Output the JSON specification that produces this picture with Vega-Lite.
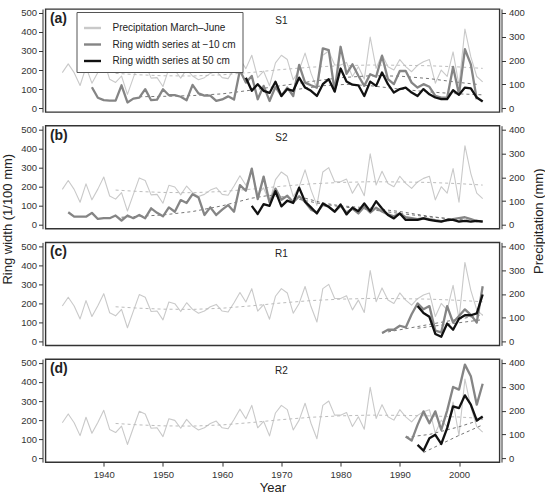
{
  "$schema": "https://vega.github.io/schema/vega-lite/v6.json",
  "background": "white",
  "padding": {"left": 0.5, "top": 7, "right": 0, "bottom": 3},
  "bounds": "flush",
  "spacing": 13.7,
  "config": {
    "font": "Liberation Sans",
    "view": {"stroke": "#333333", "strokeWidth": 1.4},
    "axis": {
      "labelFont": "Liberation Sans", "labelFontSize": 9.5, "labelColor": "#333333", "labelFlush": false,
      "tickColor": "#333333", "domainColor": "#333333", "grid": false, "tickSize": 4,
      "titleFont": "Liberation Sans", "titleFontWeight": "normal", "titleColor": "#222222"
    },
    "line": {"strokeJoin": "round"},
    "text": {"font": "Liberation Sans", "color": "#222222"}
  },
  "datasets": {
    "precip": [
      {"year":1933,"mm":149},{"year":1934,"mm":186},{"year":1935,"mm":149},{"year":1936,"mm":95},{"year":1937,"mm":172},{"year":1938,"mm":105},{"year":1939,"mm":150},{"year":1940,"mm":201},{"year":1941,"mm":121},{"year":1942,"mm":108},
      {"year":1943,"mm":135},{"year":1944,"mm":58},{"year":1945,"mm":128},{"year":1946,"mm":197},{"year":1947,"mm":186},{"year":1948,"mm":126},{"year":1949,"mm":128},{"year":1950,"mm":91},{"year":1951,"mm":166},{"year":1952,"mm":159},
      {"year":1953,"mm":126},{"year":1954,"mm":163},{"year":1955,"mm":135},{"year":1956,"mm":119},{"year":1957,"mm":128},{"year":1958,"mm":146},{"year":1959,"mm":156},{"year":1960,"mm":128},{"year":1961,"mm":124},{"year":1962,"mm":163},
      {"year":1963,"mm":206},{"year":1964,"mm":166},{"year":1965,"mm":222},{"year":1966,"mm":128},{"year":1967,"mm":155},{"year":1968,"mm":94},{"year":1969,"mm":190},{"year":1970,"mm":222},{"year":1971,"mm":204},{"year":1972,"mm":119},
      {"year":1973,"mm":160},{"year":1974,"mm":231},{"year":1975,"mm":147},{"year":1976,"mm":82},{"year":1977,"mm":222},{"year":1978,"mm":240},{"year":1979,"mm":181},{"year":1980,"mm":181},{"year":1981,"mm":192},{"year":1982,"mm":133},
      {"year":1983,"mm":174},{"year":1984,"mm":122},{"year":1985,"mm":298},{"year":1986,"mm":167},{"year":1987,"mm":225},{"year":1988,"mm":174},{"year":1989,"mm":160},{"year":1990,"mm":204},{"year":1991,"mm":174},{"year":1992,"mm":153},
      {"year":1993,"mm":180},{"year":1994,"mm":195},{"year":1995,"mm":204},{"year":1996,"mm":105},{"year":1997,"mm":160},{"year":1998,"mm":133},{"year":1999,"mm":236},{"year":2000,"mm":95},{"year":2001,"mm":332},{"year":2002,"mm":215},
      {"year":2003,"mm":133},{"year":2004,"mm":110}
    ],
    "precipTrend": [
      {"year":1942,"mm":146},{"year":1946,"mm":140},{"year":1950,"mm":136},{"year":1955,"mm":135},{"year":1960,"mm":140},{"year":1965,"mm":150},{"year":1970,"mm":162},
      {"year":1975,"mm":172},{"year":1980,"mm":178},{"year":1985,"mm":181},{"year":1990,"mm":180},{"year":1995,"mm":178},{"year":2000,"mm":173},{"year":2004,"mm":167}
    ],
    "S1_10": [
      {"year":1938,"width":110},{"year":1939,"width":55},{"year":1940,"width":42},{"year":1941,"width":40},{"year":1942,"width":40},{"year":1943,"width":120},{"year":1944,"width":30},{"year":1945,"width":50},{"year":1946,"width":55},{"year":1947,"width":100},
      {"year":1948,"width":42},{"year":1949,"width":45},{"year":1950,"width":99},{"year":1951,"width":68},{"year":1952,"width":68},{"year":1953,"width":60},{"year":1954,"width":42},{"year":1955,"width":122},{"year":1956,"width":78},{"year":1957,"width":66},
      {"year":1958,"width":66},{"year":1959,"width":38},{"year":1960,"width":46},{"year":1961,"width":62},{"year":1962,"width":45},{"year":1963,"width":199},{"year":1964,"width":134},{"year":1965,"width":169},{"year":1966,"width":47},{"year":1967,"width":117},
      {"year":1968,"width":38},{"year":1969,"width":112},{"year":1970,"width":64},{"year":1971,"width":108},{"year":1972,"width":64},{"year":1973,"width":227},{"year":1974,"width":134},{"year":1975,"width":120},{"year":1976,"width":108},{"year":1977,"width":314},
      {"year":1978,"width":304},{"year":1979,"width":90},{"year":1980,"width":322},{"year":1981,"width":180},{"year":1982,"width":230},{"year":1983,"width":170},{"year":1984,"width":117},{"year":1985,"width":178},{"year":1986,"width":165},{"year":1987,"width":274},
      {"year":1988,"width":152},{"year":1989,"width":126},{"year":1990,"width":195},{"year":1991,"width":195},{"year":1992,"width":134},{"year":1993,"width":108},{"year":1994,"width":126},{"year":1995,"width":112},{"year":1996,"width":64},{"year":1997,"width":55},
      {"year":1998,"width":55},{"year":1999,"width":216},{"year":2000,"width":73},{"year":2001,"width":309},{"year":2002,"width":230},{"year":2003,"width":47}
    ],
    "S1_50": [
      {"year":1964,"width":160},{"year":1965,"width":91},{"year":1966,"width":126},{"year":1967,"width":91},{"year":1968,"width":80},{"year":1969,"width":139},{"year":1970,"width":64},{"year":1971,"width":100},{"year":1972,"width":91},{"year":1973,"width":160},
      {"year":1974,"width":108},{"year":1975,"width":91},{"year":1976,"width":64},{"year":1977,"width":126},{"year":1978,"width":152},{"year":1979,"width":87},{"year":1980,"width":208},{"year":1981,"width":140},{"year":1982,"width":123},{"year":1983,"width":120},
      {"year":1984,"width":64},{"year":1985,"width":139},{"year":1986,"width":117},{"year":1987,"width":187},{"year":1988,"width":126},{"year":1989,"width":82},{"year":1990,"width":100},{"year":1991,"width":108},{"year":1992,"width":82},{"year":1993,"width":64},
      {"year":1994,"width":100},{"year":1995,"width":73},{"year":1996,"width":56},{"year":1997,"width":47},{"year":1998,"width":47},{"year":1999,"width":94},{"year":2000,"width":70},{"year":2001,"width":108},{"year":2002,"width":104},{"year":2003,"width":56},
      {"year":2004,"width":35}
    ],
    "S1_10t": [
      {"year":1946,"width":60},{"year":1950,"width":62},{"year":1955,"width":66},{"year":1960,"width":75},{"year":1965,"width":95},{"year":1970,"width":118},{"year":1975,"width":140},
      {"year":1980,"width":160},{"year":1985,"width":170},{"year":1990,"width":168},{"year":1995,"width":155},{"year":2000,"width":135},{"year":2003,"width":125}
    ],
    "S1_50t": [
      {"year":1973,"width":100},{"year":1977,"width":118},{"year":1981,"width":125},{"year":1985,"width":118},{"year":1990,"width":100},{"year":1995,"width":85},{"year":2000,"width":75},{"year":2004,"width":70}
    ],
    "S2_10": [
      {"year":1934,"width":66},{"year":1935,"width":43},{"year":1936,"width":43},{"year":1937,"width":43},{"year":1938,"width":63},{"year":1939,"width":31},{"year":1940,"width":35},{"year":1941,"width":35},{"year":1942,"width":49},{"year":1943,"width":23},
      {"year":1944,"width":49},{"year":1945,"width":35},{"year":1946,"width":52},{"year":1947,"width":35},{"year":1948,"width":87},{"year":1949,"width":63},{"year":1950,"width":45},{"year":1951,"width":92},{"year":1952,"width":69},{"year":1953,"width":130},
      {"year":1954,"width":115},{"year":1955,"width":161},{"year":1956,"width":144},{"year":1957,"width":52},{"year":1958,"width":92},{"year":1959,"width":52},{"year":1960,"width":80},{"year":1961,"width":104},{"year":1962,"width":69},{"year":1963,"width":208},
      {"year":1964,"width":179},{"year":1965,"width":295},{"year":1966,"width":135},{"year":1967,"width":253},{"year":1968,"width":118},{"year":1969,"width":190},{"year":1970,"width":132},{"year":1971,"width":153},{"year":1972,"width":118},{"year":1973,"width":150},
      {"year":1974,"width":120},{"year":1975,"width":80},{"year":1976,"width":65},{"year":1977,"width":105},{"year":1978,"width":95},{"year":1979,"width":70},{"year":1980,"width":100},{"year":1981,"width":65},{"year":1982,"width":85},{"year":1983,"width":60},
      {"year":1984,"width":95},{"year":1985,"width":65},{"year":1986,"width":90},{"year":1987,"width":70},{"year":1988,"width":55},{"year":1989,"width":45},{"year":1990,"width":60},{"year":1991,"width":40},{"year":1992,"width":35},{"year":1993,"width":30},
      {"year":1994,"width":35},{"year":1995,"width":30},{"year":1996,"width":25},{"year":1997,"width":20},{"year":1998,"width":22},{"year":1999,"width":30},{"year":2000,"width":35},{"year":2001,"width":40},{"year":2002,"width":30},{"year":2003,"width":20},
      {"year":2004,"width":18}
    ],
    "S2_50": [
      {"year":1965,"width":100},{"year":1966,"width":57},{"year":1967,"width":109},{"year":1968,"width":100},{"year":1969,"width":177},{"year":1970,"width":97},{"year":1971,"width":127},{"year":1972,"width":115},{"year":1973,"width":195},{"year":1974,"width":122},
      {"year":1975,"width":92},{"year":1976,"width":60},{"year":1977,"width":112},{"year":1978,"width":95},{"year":1979,"width":69},{"year":1980,"width":107},{"year":1981,"width":55},{"year":1982,"width":90},{"year":1983,"width":72},{"year":1984,"width":112},
      {"year":1985,"width":72},{"year":1986,"width":124},{"year":1987,"width":86},{"year":1988,"width":52},{"year":1989,"width":34},{"year":1990,"width":60},{"year":1991,"width":26},{"year":1992,"width":26},{"year":1993,"width":26},{"year":1994,"width":34},
      {"year":1995,"width":26},{"year":1996,"width":21},{"year":1997,"width":17},{"year":1998,"width":26},{"year":1999,"width":26},{"year":2000,"width":17},{"year":2001,"width":21},{"year":2002,"width":17},{"year":2003,"width":21},{"year":2004,"width":17}
    ],
    "S2_10t": [
      {"year":1943,"width":40},{"year":1950,"width":52},{"year":1955,"width":70},{"year":1960,"width":100},{"year":1965,"width":140},{"year":1968,"width":155},{"year":1972,"width":140},
      {"year":1976,"width":115},{"year":1980,"width":95},{"year":1985,"width":80},{"year":1990,"width":60},{"year":1995,"width":42},{"year":2000,"width":28},{"year":2004,"width":20}
    ],
    "S2_50t": [
      {"year":1974,"width":140},{"year":1977,"width":115},{"year":1980,"width":100},{"year":1985,"width":88},{"year":1990,"width":70},{"year":1995,"width":45},{"year":2000,"width":25},{"year":2004,"width":18}
    ],
    "R1_10": [
      {"year":1987,"width":45},{"year":1988,"width":62},{"year":1989,"width":62},{"year":1990,"width":83},{"year":1991,"width":74},{"year":1992,"width":143},{"year":1993,"width":200},{"year":1994,"width":169},{"year":1995,"width":186},{"year":1996,"width":57},
      {"year":1997,"width":48},{"year":1998,"width":186},{"year":1999,"width":100},{"year":2000,"width":134},{"year":2001,"width":169},{"year":2002,"width":140},{"year":2003,"width":100},{"year":2004,"width":290}
    ],
    "R1_50": [
      {"year":1993,"width":186},{"year":1994,"width":150},{"year":1995,"width":130},{"year":1996,"width":40},{"year":1997,"width":25},{"year":1998,"width":95},{"year":1999,"width":62},{"year":2000,"width":120},{"year":2001,"width":138},{"year":2002,"width":138},
      {"year":2003,"width":148},{"year":2004,"width":247}
    ],
    "R1_10t": [{"year":1987,"width":45},{"year":1995,"width":90},{"year":2004,"width":140}],
    "R1_50t": [{"year":1993,"width":70},{"year":2004,"width":115}],
    "R2_10": [
      {"year":1991,"width":114},{"year":1992,"width":93},{"year":1993,"width":175},{"year":1994,"width":246},{"year":1995,"width":184},{"year":1996,"width":246},{"year":1997,"width":149},{"year":1998,"width":250},{"year":1999,"width":374},{"year":2000,"width":360},
      {"year":2001,"width":491},{"year":2002,"width":430},{"year":2003,"width":281},{"year":2004,"width":391}
    ],
    "R2_50": [
      {"year":1993,"width":70},{"year":1994,"width":40},{"year":1995,"width":105},{"year":1996,"width":123},{"year":1997,"width":75},{"year":1998,"width":158},{"year":1999,"width":272},{"year":2000,"width":263},{"year":2001,"width":330},{"year":2002,"width":281},
      {"year":2003,"width":198},{"year":2004,"width":219}
    ],
    "R2_10t": [{"year":1991,"width":110},{"year":1995,"width":125},{"year":2000,"width":165},{"year":2004,"width":205}],
    "R2_50t": [{"year":1994,"width":30},{"year":2000,"width":120},{"year":2004,"width":175}]
  },
  "resolve": {"scale": {"color": "independent"}},
  "vconcat": [
    {
      "width": 454, "height": 103,
      "resolve": {"scale": {"y": "independent"}},
      "layer": [
        {"layer": [
          {"data": {"name": "precip"}, "mark": {"type": "line", "color": "#c9c9c9", "strokeWidth": 1.1},
           "encoding": {"x": {"field": "year", "type": "quantitative", "scale": {"domain": [1930.16, 2006.84], "nice": false, "zero": false}, "axis": null},
                        "y": {"field": "mm", "type": "quantitative", "scale": {"domain": [-16, 416], "nice": false, "zero": false}, "axis": {"orient": "right", "values": [0, 100, 200, 300, 400], "tickCount": 10, "labelOverlap": false, "title": null, "offset": 2, "labelPadding": 3}}}},
          {"data": {"name": "precipTrend"}, "mark": {"type": "line", "color": "#bdbdbd", "strokeWidth": 1, "strokeDash": [3, 3]},
           "encoding": {"x": {"field": "year", "type": "quantitative"}, "y": {"field": "mm", "type": "quantitative"}}}
        ]},
        {"layer": [
          {"data": {"name": "S1_10t"}, "mark": {"type": "line", "color": "#777777", "strokeWidth": 1, "strokeDash": [3, 3]},
           "encoding": {"x": {"field": "year", "type": "quantitative"},
                        "y": {"field": "width", "type": "quantitative", "scale": {"domain": [-20, 520], "nice": false, "zero": false}, "axis": {"values": [0, 100, 200, 300, 400, 500], "tickCount": 10, "labelOverlap": false, "title": null, "offset": 3, "labelPadding": 2}}}},
          {"data": {"name": "S1_50t"}, "mark": {"type": "line", "color": "#777777", "strokeWidth": 1, "strokeDash": [3, 3]},
           "encoding": {"x": {"field": "year", "type": "quantitative"}, "y": {"field": "width", "type": "quantitative"}}},
          {"data": {"name": "S1_10"}, "mark": {"type": "line", "strokeWidth": 2.3},
           "encoding": {"x": {"field": "year", "type": "quantitative"}, "y": {"field": "width", "type": "quantitative"},
                        "color": {"datum": "Ring width series at −10 cm", "type": "nominal",
                                  "scale": {"domain": ["Precipitation March–June", "Ring width series at −10 cm", "Ring width series at 50 cm"], "range": ["#c9c9c9", "#858585", "#111111"]},
                                  "legend": {"title": null, "orient": "none", "legendX": 31, "legendY": 3, "direction": "vertical",
                                             "symbolType": "stroke", "symbolSize": 289, "symbolStrokeWidth": 2.4,
                                             "labelFont": "Liberation Sans", "labelFontSize": 10, "labelColor": "#222222", "labelOffset": 10,
                                             "rowPadding": 1.5, "padding": 6, "strokeColor": "#555555", "fillColor": "white",
                                             "encode": {"symbols": {"update": {"strokeWidth": {"signal": "datum.value === 'Precipitation March–June' ? 1.2 : 2.4"}}}}}}}},
          {"data": {"name": "S1_50"}, "mark": {"type": "line", "strokeWidth": 2.3},
           "encoding": {"x": {"field": "year", "type": "quantitative"}, "y": {"field": "width", "type": "quantitative"},
                        "color": {"datum": "Ring width series at 50 cm", "type": "nominal"}}},
          {"data": {"values": [{"tag": "(a)"}]}, "mark": {"type": "text", "align": "left", "baseline": "middle", "fontSize": 14, "fontWeight": "bold"},
           "encoding": {"x": {"datum": 1930.9}, "y": {"datum": 468}, "text": {"field": "tag"}}},
          {"data": {"values": [{"site": "S1"}]}, "mark": {"type": "text", "align": "center", "baseline": "middle", "fontSize": 10},
           "encoding": {"x": {"datum": 1970}, "y": {"datum": 457}, "text": {"field": "site"}}}
        ]}
      ]
    },
    {
      "width": 454, "height": 103,
      "resolve": {"scale": {"y": "independent"}},
      "layer": [
        {"layer": [
          {"data": {"name": "precip"}, "mark": {"type": "line", "color": "#c9c9c9", "strokeWidth": 1.1},
           "encoding": {"x": {"field": "year", "type": "quantitative", "scale": {"domain": [1930.16, 2006.84], "nice": false, "zero": false}, "axis": null},
                        "y": {"field": "mm", "type": "quantitative", "scale": {"domain": [-16, 416], "nice": false, "zero": false},
                              "axis": {"orient": "right", "values": [0, 100, 200, 300, 400], "tickCount": 10, "labelOverlap": false, "offset": 2, "labelPadding": 3,
                                       "title": "Precipitation (mm)", "titleFontSize": 13, "titleAngle": -90, "titleX": 37, "titleY": 95, "titleBaseline": "middle", "titleAlign": "center"}}}},
          {"data": {"name": "precipTrend"}, "mark": {"type": "line", "color": "#bdbdbd", "strokeWidth": 1, "strokeDash": [3, 3]},
           "encoding": {"x": {"field": "year", "type": "quantitative"}, "y": {"field": "mm", "type": "quantitative"}}}
        ]},
        {"layer": [
          {"data": {"name": "S2_10t"}, "mark": {"type": "line", "color": "#777777", "strokeWidth": 1, "strokeDash": [3, 3]},
           "encoding": {"x": {"field": "year", "type": "quantitative"},
                        "y": {"field": "width", "type": "quantitative", "scale": {"domain": [-20, 520], "nice": false, "zero": false},
                              "axis": {"values": [0, 100, 200, 300, 400, 500], "tickCount": 10, "labelOverlap": false, "offset": 3, "labelPadding": 2,
                                       "title": "Ring width (1/100 mm)", "titleFontSize": 13, "titleAngle": -90, "titleX": -35, "titleY": 93, "titleBaseline": "middle", "titleAlign": "center"}}}},
          {"data": {"name": "S2_50t"}, "mark": {"type": "line", "color": "#777777", "strokeWidth": 1, "strokeDash": [3, 3]},
           "encoding": {"x": {"field": "year", "type": "quantitative"}, "y": {"field": "width", "type": "quantitative"}}},
          {"data": {"name": "S2_10"}, "mark": {"type": "line", "strokeWidth": 2.3},
           "encoding": {"x": {"field": "year", "type": "quantitative"}, "y": {"field": "width", "type": "quantitative"},
                        "color": {"datum": "Ring width series at −10 cm", "type": "nominal", "scale": {"domain": ["Precipitation March–June", "Ring width series at −10 cm", "Ring width series at 50 cm"], "range": ["#c9c9c9", "#858585", "#111111"]}, "legend": null}}},
          {"data": {"name": "S2_50"}, "mark": {"type": "line", "strokeWidth": 2.3},
           "encoding": {"x": {"field": "year", "type": "quantitative"}, "y": {"field": "width", "type": "quantitative"},
                        "color": {"datum": "Ring width series at 50 cm", "type": "nominal", "legend": null}}},
          {"data": {"values": [{"tag": "(b)"}]}, "mark": {"type": "text", "align": "left", "baseline": "middle", "fontSize": 14, "fontWeight": "bold"},
           "encoding": {"x": {"datum": 1930.9}, "y": {"datum": 468}, "text": {"field": "tag"}}},
          {"data": {"values": [{"site": "S2"}]}, "mark": {"type": "text", "align": "center", "baseline": "middle", "fontSize": 10},
           "encoding": {"x": {"datum": 1970}, "y": {"datum": 457}, "text": {"field": "site"}}}
        ]}
      ]
    },
    {
      "width": 454, "height": 103,
      "resolve": {"scale": {"y": "independent"}},
      "layer": [
        {"layer": [
          {"data": {"name": "precip"}, "mark": {"type": "line", "color": "#c9c9c9", "strokeWidth": 1.1},
           "encoding": {"x": {"field": "year", "type": "quantitative", "scale": {"domain": [1930.16, 2006.84], "nice": false, "zero": false}, "axis": null},
                        "y": {"field": "mm", "type": "quantitative", "scale": {"domain": [-16, 416], "nice": false, "zero": false}, "axis": {"orient": "right", "values": [0, 100, 200, 300, 400], "tickCount": 10, "labelOverlap": false, "title": null, "offset": 2, "labelPadding": 3}}}},
          {"data": {"name": "precipTrend"}, "mark": {"type": "line", "color": "#bdbdbd", "strokeWidth": 1, "strokeDash": [3, 3]},
           "encoding": {"x": {"field": "year", "type": "quantitative"}, "y": {"field": "mm", "type": "quantitative"}}}
        ]},
        {"layer": [
          {"data": {"name": "R1_10t"}, "mark": {"type": "line", "color": "#777777", "strokeWidth": 1, "strokeDash": [3, 3]},
           "encoding": {"x": {"field": "year", "type": "quantitative"},
                        "y": {"field": "width", "type": "quantitative", "scale": {"domain": [-20, 520], "nice": false, "zero": false}, "axis": {"values": [0, 100, 200, 300, 400, 500], "tickCount": 10, "labelOverlap": false, "title": null, "offset": 3, "labelPadding": 2}}}},
          {"data": {"name": "R1_50t"}, "mark": {"type": "line", "color": "#777777", "strokeWidth": 1, "strokeDash": [3, 3]},
           "encoding": {"x": {"field": "year", "type": "quantitative"}, "y": {"field": "width", "type": "quantitative"}}},
          {"data": {"name": "R1_10"}, "mark": {"type": "line", "strokeWidth": 2.3},
           "encoding": {"x": {"field": "year", "type": "quantitative"}, "y": {"field": "width", "type": "quantitative"},
                        "color": {"datum": "Ring width series at −10 cm", "type": "nominal", "scale": {"domain": ["Precipitation March–June", "Ring width series at −10 cm", "Ring width series at 50 cm"], "range": ["#c9c9c9", "#858585", "#111111"]}, "legend": null}}},
          {"data": {"name": "R1_50"}, "mark": {"type": "line", "strokeWidth": 2.3},
           "encoding": {"x": {"field": "year", "type": "quantitative"}, "y": {"field": "width", "type": "quantitative"},
                        "color": {"datum": "Ring width series at 50 cm", "type": "nominal", "legend": null}}},
          {"data": {"values": [{"tag": "(c)"}]}, "mark": {"type": "text", "align": "left", "baseline": "middle", "fontSize": 14, "fontWeight": "bold"},
           "encoding": {"x": {"datum": 1930.9}, "y": {"datum": 468}, "text": {"field": "tag"}}},
          {"data": {"values": [{"site": "R1"}]}, "mark": {"type": "text", "align": "center", "baseline": "middle", "fontSize": 10},
           "encoding": {"x": {"datum": 1970}, "y": {"datum": 457}, "text": {"field": "site"}}}
        ]}
      ]
    },
    {
      "width": 454, "height": 103,
      "resolve": {"scale": {"y": "independent"}},
      "layer": [
        {"layer": [
          {"data": {"name": "precip"}, "mark": {"type": "line", "color": "#c9c9c9", "strokeWidth": 1.1},
           "encoding": {"x": {"field": "year", "type": "quantitative", "scale": {"domain": [1930.16, 2006.84], "nice": false, "zero": false},
                              "axis": {"values": [1940, 1950, 1960, 1970, 1980, 1990, 2000], "tickCount": 10, "labelOverlap": false, "format": "d", "title": "Year", "titleFontSize": 13, "labelPadding": 3, "titlePadding": 3, "domain": false}},
                        "y": {"field": "mm", "type": "quantitative", "scale": {"domain": [-16, 416], "nice": false, "zero": false}, "axis": {"orient": "right", "values": [0, 100, 200, 300, 400], "tickCount": 10, "labelOverlap": false, "title": null, "offset": 2, "labelPadding": 3}}}},
          {"data": {"name": "precipTrend"}, "mark": {"type": "line", "color": "#bdbdbd", "strokeWidth": 1, "strokeDash": [3, 3]},
           "encoding": {"x": {"field": "year", "type": "quantitative"}, "y": {"field": "mm", "type": "quantitative"}}}
        ]},
        {"layer": [
          {"data": {"name": "R2_10t"}, "mark": {"type": "line", "color": "#777777", "strokeWidth": 1, "strokeDash": [3, 3]},
           "encoding": {"x": {"field": "year", "type": "quantitative"},
                        "y": {"field": "width", "type": "quantitative", "scale": {"domain": [-20, 520], "nice": false, "zero": false}, "axis": {"values": [0, 100, 200, 300, 400, 500], "tickCount": 10, "labelOverlap": false, "title": null, "offset": 3, "labelPadding": 2}}}},
          {"data": {"name": "R2_50t"}, "mark": {"type": "line", "color": "#777777", "strokeWidth": 1, "strokeDash": [3, 3]},
           "encoding": {"x": {"field": "year", "type": "quantitative"}, "y": {"field": "width", "type": "quantitative"}}},
          {"data": {"name": "R2_10"}, "mark": {"type": "line", "strokeWidth": 2.3},
           "encoding": {"x": {"field": "year", "type": "quantitative"}, "y": {"field": "width", "type": "quantitative"},
                        "color": {"datum": "Ring width series at −10 cm", "type": "nominal", "scale": {"domain": ["Precipitation March–June", "Ring width series at −10 cm", "Ring width series at 50 cm"], "range": ["#c9c9c9", "#858585", "#111111"]}, "legend": null}}},
          {"data": {"name": "R2_50"}, "mark": {"type": "line", "strokeWidth": 2.3},
           "encoding": {"x": {"field": "year", "type": "quantitative"}, "y": {"field": "width", "type": "quantitative"},
                        "color": {"datum": "Ring width series at 50 cm", "type": "nominal", "legend": null}}},
          {"data": {"values": [{"tag": "(d)"}]}, "mark": {"type": "text", "align": "left", "baseline": "middle", "fontSize": 14, "fontWeight": "bold"},
           "encoding": {"x": {"datum": 1930.9}, "y": {"datum": 468}, "text": {"field": "tag"}}},
          {"data": {"values": [{"site": "R2"}]}, "mark": {"type": "text", "align": "center", "baseline": "middle", "fontSize": 10},
           "encoding": {"x": {"datum": 1970}, "y": {"datum": 457}, "text": {"field": "site"}}}
        ]}
      ]
    }
  ]
}
